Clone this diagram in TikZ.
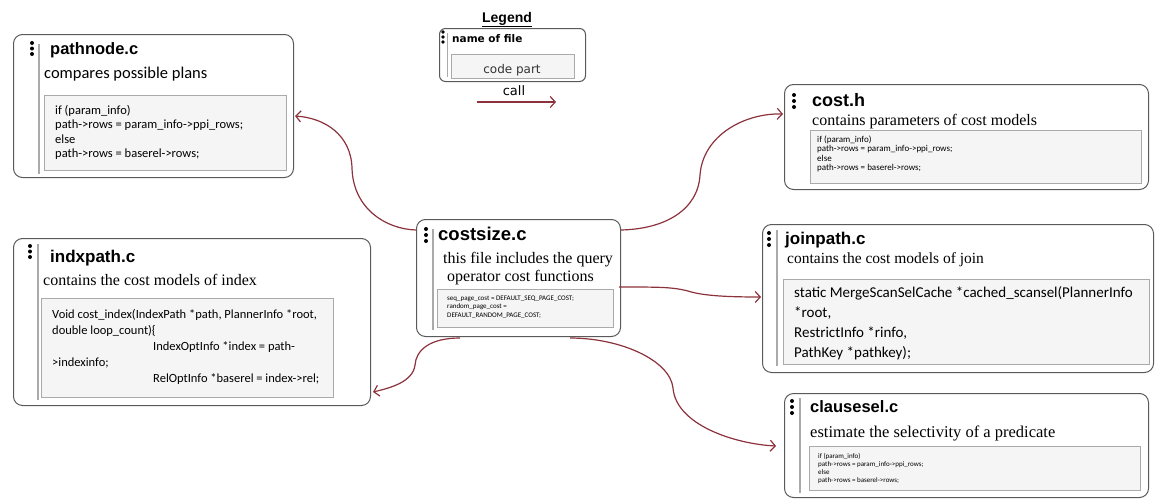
\documentclass[tikz,border=0pt]{standalone}
\usepackage{fontspec}
\setmainfont{Liberation Serif}
\newfontfamily\arialf{Liberation Sans}
\newfontfamily\calib{Carlito}
\newfontfamily\dejav{DejaVu Sans}
\usetikzlibrary{arrows.meta,calc}
\definecolor{arr}{HTML}{8C323C}
\definecolor{boxline}{HTML}{5A5A5A}
\definecolor{codefill}{HTML}{F5F5F5}
\definecolor{codeline}{HTML}{AAAAAA}
\begin{document}
\begin{tikzpicture}[x=1pt,y=-1pt,
  filebox/.style={draw=boxline, line width=1pt, rounded corners=9pt, fill=white, anchor=north west, inner sep=0pt},
  codebox/.style={draw=codeline, line width=0.9pt, fill=codefill, anchor=north west, inner sep=0pt},
  sidebar/.style={draw=codeline, line width=1.4pt},
  title/.style={anchor=base west, inner sep=0pt, font=\arialf\bfseries\fontsize{#1}{#1}\selectfont},
  desc/.style={anchor=base west, inner sep=0pt, font=\fontsize{#1}{#1}\selectfont},
  codetext/.style={anchor=base west, inner sep=0pt, align=left},
  call/.style={draw=arr, line width=1.2pt, -{Straight Barb[length=5pt,width=11pt]}},
]
\useasboundingbox (0,0) rectangle (1156,498);

% ---------- Legend ----------
\node[anchor=base, inner sep=0pt, font=\arialf\bfseries\fontsize{14}{14}\selectfont] (legtitle) at (507,22) {\underline{Legend}};
\node[filebox, rounded corners=6pt, minimum width=146pt, minimum height=53pt] (legend) at (439,28) {};
\foreach \yy in {32,37,42} \fill (443,\yy) circle (1.8pt);
\draw[sidebar, line width=1pt] (447,33) -- (447,77);
\node[anchor=base west, inner sep=0pt, font=\dejav\bfseries\fontsize{10.5}{10.5}\selectfont] (legname) at (452,42) {name of file};
\node[codebox, minimum width=123pt, minimum height=24pt] (legcode) at (451,54) {};
\node[anchor=base, inner sep=0pt, font=\dejav\fontsize{12}{12}\selectfont, text=black!80] (legcodetext) at (512,73) {code part};
\node[anchor=base, inner sep=0pt, font=\dejav\fontsize{13}{13}\selectfont] (legcall) at (514,95) {call};
\coordinate (la) at (477,102);
\coordinate (lb) at (556,102);
\draw[call] (la) -- (lb);

% ---------- pathnode.c ----------
\node[filebox, minimum width=280pt, minimum height=143pt] (pathnode) at (13,34) {};
\foreach \yy in {43,48.5,54} \fill (32,\yy) circle (2pt);
\draw[sidebar] (39,44) -- (39,174);
\node[title=16.5] (pathtitle) at (50,54) {pathnode.c};
\node[anchor=base west, inner sep=0pt, font=\calib\fontsize{16.5}{16.5}\selectfont] (pathdesc) at (44,78) {compares possible plans};
\node[codebox, minimum width=242pt, minimum height=75pt] (pathcode) at (44,95) {};
\node[codetext, font=\calib\fontsize{12.5}{14.5}\selectfont] (pathcodetext) at (55,157.5)
  {if (param\_info)\\path->rows = param\_info->ppi\_rows;\\else\\path->rows = baserel->rows;};

% ---------- cost.h ----------
\node[filebox, minimum width=364pt, minimum height=105pt] (costh) at (784,84) {};
\foreach \yy in {95,101,107} \fill (794,\yy) circle (2pt);
\node[title=18] (costhtitle) at (812,106) {cost.h};
\node[desc=16] (costhdesc) at (812,125) {contains parameters of cost models};
\node[codebox, minimum width=331pt, minimum height=53pt] (costhcode) at (810,130) {};
\node[codetext, font=\calib\fontsize{9}{9.5}\selectfont] (costhcodetext) at (817,170.5)
  {if (param\_info)\\path->rows = param\_info->ppi\_rows;\\else\\path->rows = baserel->rows;};

% ---------- indxpath.c ----------
\node[filebox, minimum width=357pt, minimum height=167pt] (indxpath) at (13,238) {};
\foreach \yy in {246,251.5,257} \fill (30,\yy) circle (2pt);
\draw[sidebar] (38,244) -- (38,400);
\node[title=17] (indxtitle) at (50,262) {indxpath.c};
\node[desc=16] (indxdesc) at (43,285) {contains the cost models of index};
\node[codebox, minimum width=292pt, minimum height=99pt] (indxcode) at (41,298) {};
\node[codetext, font=\calib\fontsize{12.5}{16}\selectfont] (indxcodetext) at (52,382)
  {Void cost\_index(IndexPath *path, PlannerInfo *root,\\
   double loop\_count)\{\\
   \hspace*{101pt}IndexOptInfo *index = path-\\
   >indexinfo;\\
   \hspace*{101pt}RelOptInfo *baserel = index->rel;};

% ---------- costsize.c ----------
\node[filebox, minimum width=204pt, minimum height=117pt] (costsize) at (416,219) {};
\foreach \yy in {229,235,241} \fill (426,\yy) circle (2pt);
\draw[sidebar] (433,229) -- (433,330);
\node[title=18.5] (costsizetitle) at (438,240) {costsize.c};
\node[desc=16] (costsizedesc1) at (443,263) {this file includes the query};
\node[desc=16] (costsizedesc2) at (447,281) {operator cost functions};
\node[codebox, minimum width=176pt, minimum height=38pt] (costsizecode) at (437,289) {};
\node[codetext, font=\calib\fontsize{7}{8.3}\selectfont] (costsizecodetext) at (447,317)
  {seq\_page\_cost = DEFAULT\_SEQ\_PAGE\_COST;\\random\_page\_cost =\\DEFAULT\_RANDOM\_PAGE\_COST;};

% ---------- joinpath.c ----------
\node[filebox, minimum width=391pt, minimum height=148pt] (joinpath) at (762,224) {};
\foreach \yy in {233,239,245} \fill (769,\yy) circle (2pt);
\draw[sidebar] (777,230) -- (777,366);
\node[title=17] (jointitle) at (785,244) {joinpath.c};
\node[desc=15.5] (joindesc) at (787,263) {contains the cost models of join};
\node[codebox, minimum width=366pt, minimum height=85pt] (joincode) at (783,279) {};
\node[codetext, font=\calib\fontsize{15}{20}\selectfont] (joincodetext) at (794,357)
  {static MergeScanSelCache *cached\_scansel(PlannerInfo\\*root,\\RestrictInfo *rinfo,\\PathKey *pathkey);};

% ---------- clausesel.c ----------
\node[filebox, minimum width=364pt, minimum height=104pt] (clausesel) at (784,393) {};
\foreach \yy in {401,407,413} \fill (792,\yy) circle (2pt);
\draw[sidebar] (800,398) -- (800,493);
\node[title=16.5] (clausetitle) at (810,412) {clausesel.c};
\node[desc=16.5] (clausedesc) at (810,437) {estimate the selectivity of a predicate};
\node[codebox, minimum width=331pt, minimum height=44pt] (clausecode) at (809,446) {};
\node[codetext, font=\calib\fontsize{7}{8}\selectfont] (clausecodetext) at (818,482)
  {if (param\_info)\\path->rows = param\_info->ppi\_rows;\\else\\path->rows = baserel->rows;};

% ---------- calls ----------
\draw[call] ($(costsize.north west)+(0,11)$) .. controls (385,229) and (353,208) .. (352,168)
  .. controls (351,135) and (325,118) .. ($(pathnode.north east)+(1,82)$);
\draw[call] ($(costsize.north east)+(0,11)$) .. controls (665,229) and (698,210) .. (700,175)
  .. controls (703,135) and (745,113) .. ($(costh.north west)+(-1,30)$);
\draw[call] ($(costsize.north east)+(-2,68)$) .. controls (660,287) and (672,287) .. (688,291)
  .. controls (703,296) and (730,297) .. ($(joinpath.north west)+(-1,73)$);
\draw[call] ($(costsize.south west)+(44,1)$) .. controls (430,338) and (416,350) .. (415,365)
  .. controls (413,382) and (390,388) .. ($(indxpath.south east)+(2,-14)$);
\draw[call] ($(costsize.south west)+(154,1)$) .. controls (620,338) and (670,360) .. (673,388)
  .. controls (676,425) and (735,444) .. ($(clausesel.north west)+(-8,53)$);
\end{tikzpicture}
\end{document}
